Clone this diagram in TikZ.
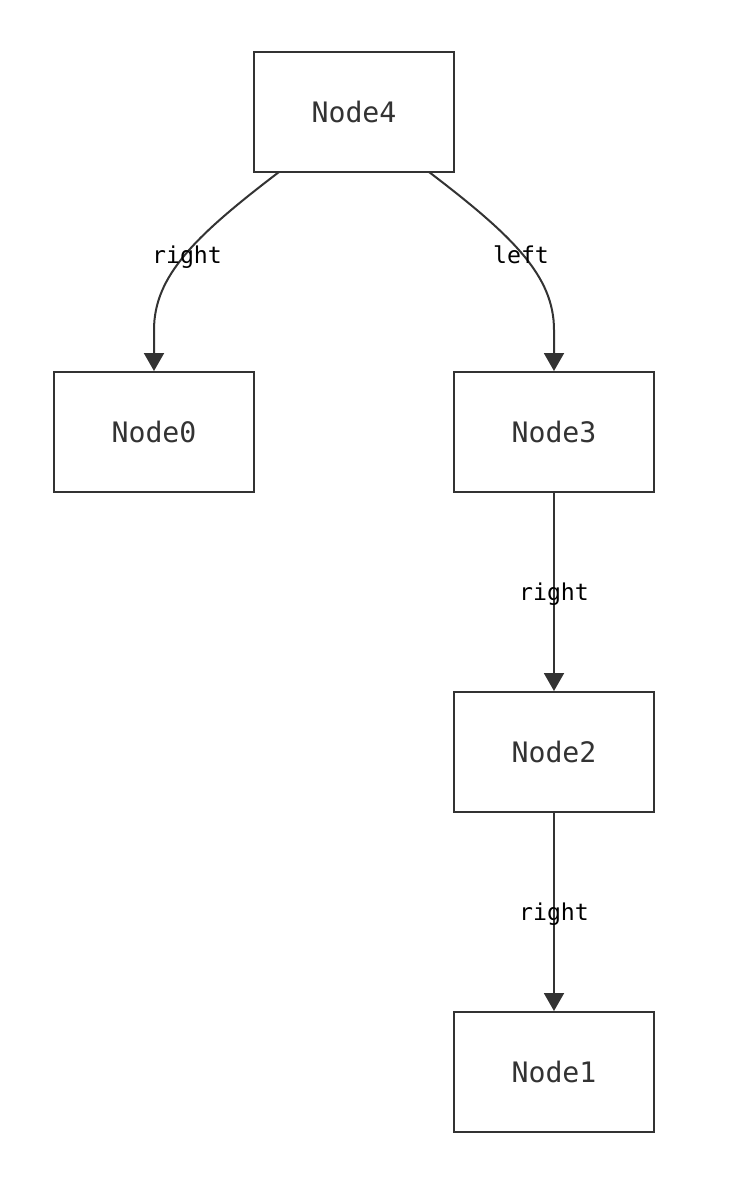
\documentclass[tikz,border=0pt]{standalone}
\usepackage{fontspec}
\setmonofont{DejaVu Sans Mono}
\usetikzlibrary{arrows.meta}
\definecolor{ink}{HTML}{333333}
\tikzset{
  box/.style={draw=ink, line width=2pt, minimum width=200pt, minimum height=120pt, inner sep=0pt, fill=white, text=ink, font=\ttfamily\fontsize{28.2}{32}\selectfont},
  conn/.style={draw=ink, line width=2pt, -{Triangle[length=18pt,width=20pt]}},
  elabel/.style={text=black, font=\ttfamily\fontsize{23.2}{26}\selectfont, inner sep=0pt, text height=0.76em, text depth=0pt}
}
\begin{document}
\begin{tikzpicture}[x=1pt,y=-1pt]
\useasboundingbox (0,0) rectangle (750,1198);
\node[box] (n4) at (354,112) {Node4};
\node[box] (n0) at (154,432) {Node0};
\node[box] (n3) at (554,432) {Node3};
\node[box] (n2) at (554,752) {Node2};
\node[box] (n1) at (554,1072) {Node1};
\coordinate (a) at (279,172);
\coordinate (b) at (429,172);
\draw[conn] (a) .. controls (195,236) and (154,276) .. (154,330) -- (n0.north);
\draw[conn] (b) .. controls (513,236) and (554,276) .. (554,330) -- (n3.north);
\draw[conn] (n3) -- (n2);
\draw[conn] (n2) -- (n1);
\node[elabel] (l1) at (187,260) {right};
\node[elabel] (l2) at (521,260) {left};
\node[elabel] (l3) at (554,597) {right};
\node[elabel] (l4) at (554,917) {right};
\end{tikzpicture}
\end{document}
